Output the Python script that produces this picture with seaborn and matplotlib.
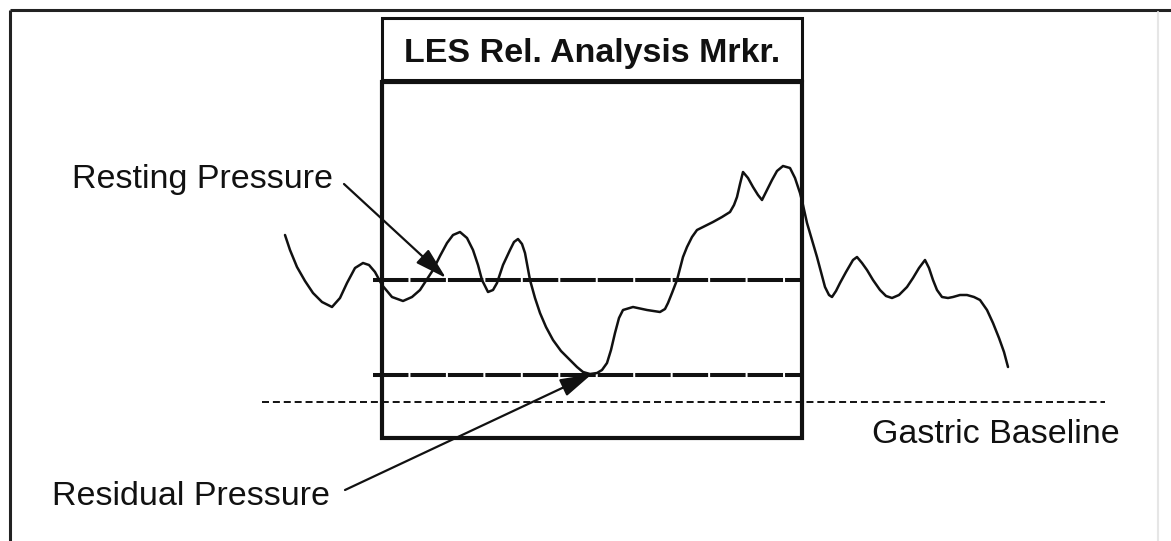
import matplotlib
matplotlib.use("Agg")
import matplotlib.pyplot as plt
from matplotlib import font_manager
from matplotlib.patches import Rectangle, FancyArrowPatch
import seaborn as sns

# Trazo de presion (esquema)
tiempo = [285, 290, 297, 305, 313, 322, 332, 340, 347, 355,
          363, 369, 375, 382, 392, 403, 412, 420, 433, 440,
          447, 453, 460, 467, 473, 478, 482, 488, 493, 497,
          503, 510, 514, 518, 522, 525, 530, 535, 540, 546,
          553, 561, 570, 577, 583, 590, 597, 602, 607, 611,
          615, 619, 623, 633, 647, 660, 665, 668, 672, 677,
          683, 687, 692, 697, 705, 713, 722, 730, 734, 737,
          740, 743, 748, 753, 758, 762, 766, 772, 777, 783,
          790, 795, 800, 803, 807, 812, 817, 821, 825, 829,
          832, 836, 840, 846, 853, 857, 862, 867, 873, 880,
          886, 892, 899, 907, 913, 919, 925, 929, 933, 937,
          942, 948, 953, 960, 967, 974, 980, 987, 993, 999,
          1004, 1008]
presion = [306, 291, 274, 260, 248, 239, 234, 243, 258, 273,
           278, 276, 269, 256, 244, 240, 244, 251, 271, 285,
           298, 306, 309, 303, 291, 276, 261, 249, 251, 258,
           276, 291, 299, 302, 297, 288, 261, 243, 228, 214,
           201, 190, 181, 174, 169, 167, 168, 171, 178, 191,
           208, 223, 231, 234, 231, 229, 232, 238, 248, 261,
           284, 294, 304, 311, 315, 319, 324, 329, 336, 344,
           357, 369, 363, 354, 346, 341, 349, 361, 370, 375,
           373, 363, 348, 336, 318, 301, 284, 269, 254, 246,
           244, 250, 258, 269, 281, 284, 278, 271, 261, 251,
           245, 243, 246, 254, 263, 273, 281, 273, 261, 251,
           244, 243, 244, 246, 246, 244, 241, 231, 218, 203,
           189, 174]

# Niveles de referencia
presion_reposo = 261
presion_residual = 166
linea_gastrica = 139

# Ventana del marcador
marcador_ini, marcador_fin = 382, 802
marcador_abajo, marcador_arriba = 103, 459
titulo_marcador = "LES Rel. Analysis Mrkr."

etiquetas = ["Resting Pressure", "Residual Pressure", "Gastric Baseline"]

sns.set_style("white")
plt.rcParams['font.family'] = ['Liberation Sans', 'DejaVu Sans']

fuentes = {f.name for f in font_manager.fontManager.ttflist}
if 'Liberation Sans Narrow' in fuentes:
    fuente_titulo, tam_titulo = 'Liberation Sans Narrow', 29
else:
    fuente_titulo, tam_titulo = 'Liberation Sans', 24.5

fig = plt.figure(figsize=(11.71, 5.41), dpi=100)
ax = fig.add_axes([0, 0, 1, 1])
ax.set_xlim(0, 1171)
ax.set_ylim(0, 541)
ax.axis('off')

tinta = '#111111'

# marco exterior
ax.plot([10, 1171], [531, 531], color='#222222', lw=2.2, solid_capstyle='butt')
ax.plot([10, 10], [531, 0], color='#222222', lw=2.2, solid_capstyle='butt')
ax.plot([1158, 1158], [529, 0], color='#e6e6e6', lw=1.5)

# linea gastrica
ax.plot([262, 1105], [linea_gastrica, linea_gastrica], color=tinta, lw=1.4,
        linestyle=(0, (3.6, 2.0)))

# caja del marcador y caja del titulo
ax.add_patch(Rectangle((marcador_ini, marcador_abajo), marcador_fin - marcador_ini,
                       marcador_arriba - marcador_abajo, fill=False, ec=tinta, lw=3))
ax.add_patch(Rectangle((marcador_ini, 461), marcador_fin - marcador_ini, 62,
                       fill=False, ec=tinta, lw=2.2))
ax.text((marcador_ini + marcador_fin) / 2, 479, titulo_marcador, ha='center', va='baseline',
        fontsize=tam_titulo, fontweight='bold', family=[fuente_titulo, 'DejaVu Sans'], color=tinta)

# niveles reposo / residual
for nivel in (presion_reposo, presion_residual):
    ax.plot([373, marcador_fin], [nivel, nivel], color=tinta, lw=2.9,
            linestyle=(0, (8.8, 0.5)), solid_capstyle='butt')

# trazo
sns.lineplot(x=tiempo, y=presion, ax=ax, color=tinta, lw=1.8, sort=False,
             estimator=None, legend=False)
ax.lines[-1].set_solid_joinstyle('round')

# etiquetas y flechas
ax.text(72, 353, etiquetas[0], fontsize=24.5, va='baseline', color=tinta)
ax.text(52, 36, etiquetas[1], fontsize=24.5, va='baseline', color=tinta)
ax.text(872, 98, etiquetas[2], fontsize=24.5, va='baseline', color=tinta)

estilo = '-|>,head_length=1.4,head_width=0.4'
ax.add_patch(FancyArrowPatch((344, 357), (446, 263), arrowstyle=estilo,
                             mutation_scale=14, color=tinta, lw=1.6, shrinkA=0, shrinkB=0))
ax.add_patch(FancyArrowPatch((345, 51), (592, 167), arrowstyle=estilo,
                             mutation_scale=14, color=tinta, lw=1.6, shrinkA=0, shrinkB=0))

fig.savefig("out.png", dpi=100, facecolor='white')
